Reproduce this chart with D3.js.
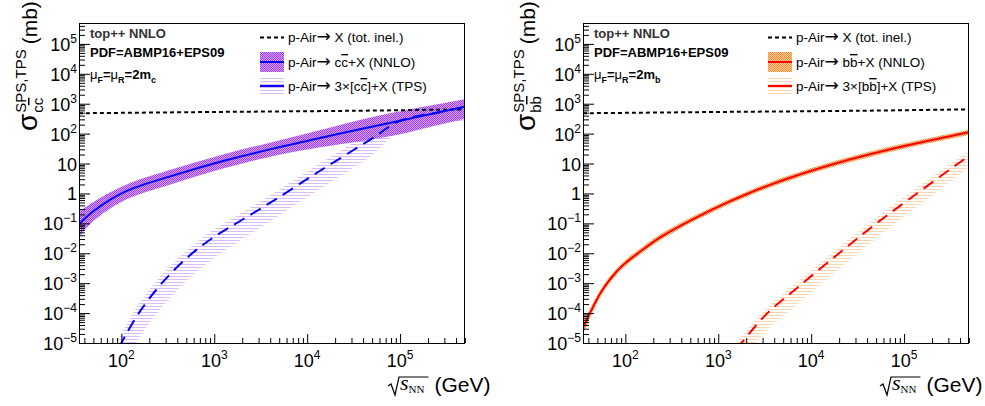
<!DOCTYPE html>
<html><head><meta charset="utf-8">
<script src="https://cdn.jsdelivr.net/npm/d3@7"></script>
<style>
body{margin:0;background:#fff}
svg{display:block}
text{font-family:"Liberation Sans",Arial,Helvetica,sans-serif;fill:#000}
</style>
</head><body>
<svg id="c" width="985" height="406"></svg>
<script>
// ---------------- data ----------------
const xDomain = [35, 5e5];
const yDomain = [1e-5, 5e5];
const xTickValues = [1e2, 1e3, 1e4, 1e5];
const xTickExponents = ["2", "3", "4", "5"];
const yTickValues = [1e-5, 1e-4, 1e-3, 1e-2, 1e-1, 1, 10, 1e2, 1e3, 1e4, 1e5];
const yTickBases = ["10", "10", "10", "10", "10", "1", "10", "10", "10", "10", "10"];
const yTickExponents = ["\u22125", "\u22124", "\u22123", "\u22122", "\u22121", "", "", "2", "3", "4", "5"];

// p-Air total inelastic cross section (mb)
const inelEnergy = [35, 1000, 30000, 500000];
const inelSigma  = [480, 530, 580, 650];

// charm: NNLO single-parton scattering
const ccEnergy  = [35, 52, 110, 380, 1300, 4600, 15000, 48000, 100000, 250000, 500000];
const ccCentral = [0.095, 0.28, 1.15, 4.17, 12.6, 33.1, 75.9, 166, 269, 501, 794];
const ccLow     = [0.036, 0.131, 0.60, 2.24, 7.09, 18.6, 36.3, 63, 95, 190, 316];
const ccHigh    = [0.25, 0.56, 1.91, 6.9, 20.9, 56, 141, 347, 562, 955, 1412];
// charm: triple-parton scattering
const ccTpsEnergy  = [95, 100, 158, 282, 550, 1000, 1900, 4570, 13800, 47900, 100000, 250000, 500000];
const ccTpsCentral = [7.1e-6, 1e-5, 1.12e-4, 1.12e-3, 8.7e-3, 0.0355, 0.120, 0.63, 5.75, 63, 269, 501, 794];
const ccTpsLow     = [8.9e-7, 1.26e-6, 1.58e-5, 1.77e-4, 1.55e-3, 7.1e-3, 0.0268, 0.158, 1.44, 17.7, 120, 200, 282];
const ccTpsHigh    = [1.42e-5, 2e-5, 2.24e-4, 2.13e-3, 0.0155, 0.063, 0.213, 1.12, 10.2, 112, 380, 630, 1000];

// bottom: NNLO single-parton scattering
const bbEnergy  = [35, 42.4, 56.6, 89.1, 158.5, 240, 550, 1259, 3548, 18620, 95500, 441600, 500000];
const bbCentral = [3.16e-5, 1.12e-4, 5.89e-4, 3.39e-3, 0.0141, 0.0347, 0.1445, 0.501, 1.905, 10.23, 37.2, 102.3, 111];
const bbLow     = [2.0e-5, 7.9e-5, 4.47e-4, 2.69e-3, 0.0112, 0.0276, 0.1175, 0.407, 1.55, 8.32, 30.2, 83.2, 90];
const bbHigh    = [5.0e-5, 1.58e-4, 7.76e-4, 4.27e-3, 0.0178, 0.0437, 0.178, 0.616, 2.34, 12.6, 45.8, 126, 137];
// bottom: triple-parton scattering
const bbTpsEnergy  = [1585, 1780, 3240, 7410, 19950, 45700, 112200, 407000, 500000];
const bbTpsCentral = [6.3e-6, 1e-5, 8.7e-5, 7.9e-4, 0.01, 0.079, 0.63, 11.5, 17.8];
const bbTpsLow     = [1.8e-6, 2.8e-6, 2.4e-5, 2.2e-4, 3.0e-3, 0.025, 0.22, 4.6, 7.5];
const bbTpsHigh    = [1.0e-5, 1.6e-5, 1.4e-4, 1.25e-3, 0.016, 0.125, 1.0, 18, 28];

// ---------------- drawing ----------------
const svg = d3.select("#c");
const defs = svg.append("defs");
const plotTop = 23, plotBottom = 343, plotW = 386;

function dotPattern(id, bg, fg) {
  const p = defs.append("pattern").attr("id", id).attr("width", 2).attr("height", 2)
    .attr("patternUnits", "userSpaceOnUse");
  p.append("rect").attr("width", 2).attr("height", 2).attr("fill", bg);
  p.append("rect").attr("width", 1).attr("height", 1).attr("fill", fg);
  p.append("rect").attr("x", 1).attr("y", 1).attr("width", 1).attr("height", 1).attr("fill", fg);
}
function hatchPattern(id, col) {
  const p = defs.append("pattern").attr("id", id).attr("width", 4).attr("height", 3)
    .attr("patternUnits", "userSpaceOnUse");
  p.append("rect").attr("width", 4).attr("height", 1).attr("fill", col);
}
dotPattern("dotPurple", "#d4a3ff", "#9e3dff");
dotPattern("dotOrange", "#ffcfa3", "#ff8a2e");
hatchPattern("hatchPurple", "#dcbaff");
hatchPattern("hatchOrange", "#ffd6b0");

function arrowText(t, before) {
  t.append("tspan").text(before);
  t.append("tspan").style("font-family", "'DejaVu Sans',sans-serif").style("font-size", "17px").text("\u2192");
}

function panel(o) {
  const x = d3.scaleLog().domain(xDomain).range([o.left, o.left + plotW]);
  const y = d3.scaleLog().domain(yDomain).range([plotBottom, plotTop]);
  const g = svg.append("g");
  const clipId = "clip" + o.id;
  defs.append("clipPath").attr("id", clipId).append("rect")
    .attr("x", o.left).attr("y", plotTop).attr("width", plotW).attr("height", plotBottom - plotTop);
  const plot = g.append("g").attr("clip-path", `url(#${clipId})`);

  const curve = d3.curveCatmullRom.alpha(0.5);
  const area = (E, lo, hi) => d3.area()
    .x((d, i) => x(E[i])).y0((d, i) => y(lo[i])).y1((d, i) => y(hi[i]))
    .curve(curve)(E);
  const line = (E, v) => d3.line()
    .x((d, i) => x(E[i])).y((d, i) => y(v[i]))
    .curve(curve)(E);

  plot.append("path").attr("d", area(o.tpsE, o.tpsLo, o.tpsHi)).attr("fill", `url(#${o.hatch})`);
  plot.append("path").attr("d", area(o.E, o.lo, o.hi)).attr("fill", `url(#${o.dot})`);
  plot.append("path").attr("d", line(inelEnergy, inelSigma)).attr("fill", "none")
    .attr("stroke", "#000").attr("stroke-width", 2).attr("stroke-dasharray", "4,3");
  plot.append("path").attr("d", line(o.E, o.c)).attr("fill", "none")
    .attr("stroke", o.color).attr("stroke-width", 2);
  plot.append("path").attr("d", line(o.tpsE, o.tpsC)).attr("fill", "none")
    .attr("stroke", o.color).attr("stroke-width", 2).attr("stroke-dasharray", "12,7");

  // axes (ROOT-style ticks inside the frame)
  const yMinor = [];
  for (let e = -5; e <= 5; e++) for (let k = 2; k <= 9; k++) { const v = k * Math.pow(10, e); if (v <= yDomain[1]) yMinor.push(v); }
  const xMinor = [];
  for (let e = 1; e <= 5; e++) for (let k = 2; k <= 9; k++) { const v = k * Math.pow(10, e); if (v >= xDomain[0] && v <= xDomain[1]) xMinor.push(v); }

  const strip = s => s.select(".domain").remove();
  g.append("g").attr("transform", `translate(${o.left},0)`)
    .call(d3.axisLeft(y).tickValues(yMinor).tickSize(-6).tickFormat("")).call(strip);
  g.append("g").attr("transform", `translate(${o.left},0)`)
    .call(d3.axisLeft(y).tickValues(yTickValues).tickSize(-11).tickFormat("")).call(strip);
  g.append("g").attr("transform", `translate(0,${plotBottom})`)
    .call(d3.axisBottom(x).tickValues(xMinor).tickSize(-5).tickFormat("")).call(strip);
  g.append("g").attr("transform", `translate(0,${plotBottom})`)
    .call(d3.axisBottom(x).tickValues(xTickValues).tickSize(-9).tickFormat("")).call(strip);
  g.selectAll(".tick line").attr("stroke", "#000");

  g.append("rect").attr("x", o.left + 0.5).attr("y", plotTop + 0.5).attr("width", plotW - 1)
    .attr("height", plotBottom - plotTop).attr("fill", "none").attr("stroke", "#000").attr("stroke-width", 1);

  // y tick labels
  yTickValues.forEach((v, i) => {
    const t = g.append("text").attr("x", o.left - 2).attr("y", y(v) + 7)
      .attr("text-anchor", "end").style("font-size", "18px");
    t.append("tspan").text(yTickBases[i]);
    if (yTickExponents[i]) t.append("tspan").attr("dy", -8).style("font-size", "12px").text(yTickExponents[i]);
  });
  // x tick labels
  xTickValues.forEach((v, i) => {
    const t = g.append("text").attr("x", x(v)).attr("y", 367)
      .attr("text-anchor", "middle").style("font-size", "18px");
    t.append("tspan").text("10");
    t.append("tspan").attr("dy", -8).style("font-size", "12px").text(xTickExponents[i]);
  });

  // y title
  const yt = g.append("g").attr("transform", `translate(${o.ytX},131) rotate(-90)`);
  const sig = yt.append("text").attr("x", 0).attr("y", 0).style("font-size", "28px").text("\u03c3");
  const ws = sig.node().getComputedTextLength();
  const sup = yt.append("text").attr("x", ws + 1).attr("y", -11).style("font-size", "15px").text("SPS,TPS");
  const sub = yt.append("text").attr("x", ws + 1).attr("y", 6).style("font-size", "15px");
  sub.append("tspan").text(o.q);
  sub.append("tspan").style("text-decoration", "overline").text(o.q);
  const w2 = Math.max(sup.node().getComputedTextLength(), sub.node().getComputedTextLength());
  yt.append("text").attr("x", ws + w2 + 6).attr("y", 0).style("font-size", "21px").text("(mb)");

  // x title
  const xt = g.append("g");
  const sTxt = xt.append("text").attr("x", o.xtX + 12).attr("y", 390)
    .style("font-family", "'Liberation Serif','Times New Roman',serif");
  sTxt.append("tspan").style("font-style", "italic").style("font-size", "22px").text("s");
  sTxt.append("tspan").attr("dy", 3).style("font-size", "11px").text("NN");
  const sw = sTxt.node().getComputedTextLength();
  const r0 = o.xtX, rEnd = o.xtX + 12 + sw + 4;
  xt.append("path").attr("d", `M${r0},386 L${r0 + 3},384 L${r0 + 7},395 L${r0 + 11},377 L${rEnd},377`)
    .attr("fill", "none").attr("stroke", "#000").attr("stroke-width", 1.2);
  xt.append("text").attr("x", rEnd + 6).attr("y", 392).style("font-size", "21px").text("(GeV)");

  // header texts
  g.append("text").attr("x", o.left + 11).attr("y", 38).style("font-size", "13px")
    .style("font-weight", "bold").style("fill", "#333").text("top++ NNLO");
  g.append("text").attr("x", o.left + 11).attr("y", 57).style("font-size", "13px")
    .style("font-weight", "bold").text("PDF=ABMP16+EPS09");
  const mu = g.append("text").attr("x", o.left + 11).attr("y", 79).style("font-size", "13px").style("font-weight", "bold");
  mu.append("tspan").style("font-weight", "normal").text("\u03bc");
  mu.append("tspan").attr("dy", 4).style("font-size", "9px").text("F");
  mu.append("tspan").attr("dy", -4).text("=");
  mu.append("tspan").style("font-weight", "normal").text("\u03bc");
  mu.append("tspan").attr("dy", 4).style("font-size", "9px").text("R");
  mu.append("tspan").attr("dy", -4).text("=2m");
  mu.append("tspan").attr("dy", 4).style("font-size", "9px").text(o.q);

  // legend
  const lx = o.legX, tx = o.legX + 28;
  g.append("line").attr("x1", lx).attr("x2", lx + 24).attr("y1", 37.5).attr("y2", 37.5)
    .attr("stroke", "#000").attr("stroke-width", 2).attr("stroke-dasharray", "4,3");
  const t1 = g.append("text").attr("x", tx).attr("y", 42).style("font-size", "13.5px");
  arrowText(t1, "p-Air");
  t1.append("tspan").text(" X (tot. inel.)");

  g.append("rect").attr("x", lx).attr("y", 52).attr("width", 24).attr("height", 20).attr("fill", `url(#${o.dot})`);
  g.append("line").attr("x1", lx).attr("x2", lx + 24).attr("y1", 62).attr("y2", 62)
    .attr("stroke", o.color).attr("stroke-width", 2);
  const t2 = g.append("text").attr("x", tx).attr("y", 67).style("font-size", "13.5px");
  arrowText(t2, "p-Air");
  t2.append("tspan").text(" " + o.q);
  t2.append("tspan").style("text-decoration", "overline").text(o.q);
  t2.append("tspan").text("+X (NNLO)");

  g.append("rect").attr("x", lx).attr("y", 76).attr("width", 24).attr("height", 20).attr("fill", `url(#${o.hatch})`);
  g.append("line").attr("x1", lx).attr("x2", lx + 24).attr("y1", 86).attr("y2", 86)
    .attr("stroke", o.color).attr("stroke-width", 2);
  const t3 = g.append("text").attr("x", tx).attr("y", 91).style("font-size", "13.5px");
  arrowText(t3, "p-Air");
  t3.append("tspan").text(" 3\u00d7[" + o.q);
  t3.append("tspan").style("text-decoration", "overline").text(o.q);
  t3.append("tspan").text("]+X (TPS)");
}

panel({id: "L", left: 79, q: "c", color: "#0000ff", dot: "dotPurple", hatch: "hatchPurple",
  E: ccEnergy, c: ccCentral, lo: ccLow, hi: ccHigh,
  tpsE: ccTpsEnergy, tpsC: ccTpsCentral, tpsLo: ccTpsLow, tpsHi: ccTpsHigh,
  ytX: 37, xtX: 388, legX: 260});
panel({id: "R", left: 583, q: "b", color: "#ff0000", dot: "dotOrange", hatch: "hatchOrange",
  E: bbEnergy, c: bbCentral, lo: bbLow, hi: bbHigh,
  tpsE: bbTpsEnergy, tpsC: bbTpsCentral, tpsLo: bbTpsLow, tpsHi: bbTpsHigh,
  ytX: 535, xtX: 880, legX: 768});
</script>
</body></html>
